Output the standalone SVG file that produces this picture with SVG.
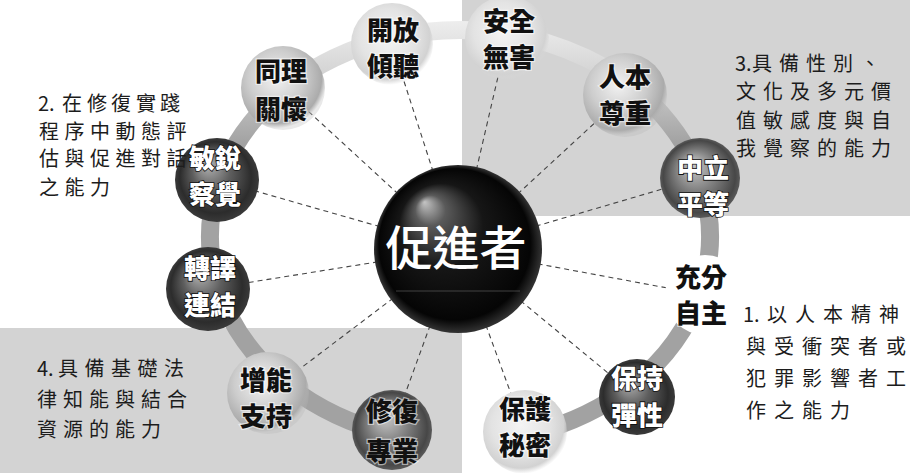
<svg xmlns="http://www.w3.org/2000/svg" width="910" height="473" viewBox="0 0 910 473">
<defs>
<style>
.lbl{font-family:"Noto Sans CJK TC","Noto Sans CJK SC",sans-serif;font-size:20px;fill:#1c1c1c}
.nt{font-family:"Noto Sans CJK TC","Noto Sans CJK SC",sans-serif;font-size:26px;font-weight:900;text-anchor:middle}
.dk{fill:#ffffff;stroke:#111;stroke-width:1.6px;paint-order:stroke}
.lt{fill:#111;stroke:#ffffff;stroke-width:2.5px;stroke-opacity:.55;paint-order:stroke}
.dash{stroke:#444;stroke-width:1.1;stroke-dasharray:5 4;fill:none}
.shade{fill:#d3d3d3}
</style>
<radialGradient id="gLight" cx=".45" cy=".42" r=".58">
<stop offset="0" stop-color="#f4f4f4"/><stop offset=".6" stop-color="#e3e3e3"/><stop offset=".88" stop-color="#d2d2d2"/><stop offset="1" stop-color="#d8d8d8" stop-opacity="0"/>
</radialGradient>
<radialGradient id="gMid" cx=".42" cy=".38" r=".6">
<stop offset="0" stop-color="#f2f2f2"/><stop offset=".55" stop-color="#cdcdcd"/><stop offset=".9" stop-color="#ababab"/><stop offset="1" stop-color="#b5b5b5" stop-opacity=".3"/>
</radialGradient>
<radialGradient id="gDark" cx=".5" cy=".5" r=".5" fx=".38" fy=".3">
<stop offset="0" stop-color="#b8b8b8"/><stop offset=".45" stop-color="#5e5e5e"/><stop offset=".85" stop-color="#2c2c2c"/><stop offset="1" stop-color="#3a3a3a"/>
</radialGradient>
<radialGradient id="gDark2" cx=".5" cy=".5" r=".5" fx=".4" fy=".32">
<stop offset="0" stop-color="#cfcfcf"/><stop offset=".5" stop-color="#808080"/><stop offset=".9" stop-color="#474747"/><stop offset="1" stop-color="#5a5a5a"/>
</radialGradient>
<radialGradient id="gCenter" cx=".5" cy=".5" r=".5" fx=".3" fy=".22">
<stop offset="0" stop-color="#c4c4c4"/><stop offset=".18" stop-color="#5a5a5a"/><stop offset=".5" stop-color="#161616"/><stop offset=".9" stop-color="#050505"/><stop offset="1" stop-color="#333"/>
</radialGradient>
<linearGradient id="gBand" gradientUnits="userSpaceOnUse" x1="0" y1="20" x2="0" y2="460">
<stop offset="0" stop-color="#eeeeee"/><stop offset=".12" stop-color="#d4d4d4"/><stop offset=".28" stop-color="#a2a2a2"/><stop offset="1" stop-color="#a2a2a2"/>
</linearGradient>
</defs>

<rect width="910" height="473" fill="#ffffff"/>
<rect class="shade" x="462" y="0" width="448" height="216"/>
<rect class="shade" x="0" y="328" width="462" height="145"/>

<path id="band" d="M416.6,438.9 A250,206 0 1 1 503.4,438.9" fill="none" stroke="url(#gBand)" stroke-width="18"/>

<g id="connectors">
<line class="dash" x1="458" y1="249" x2="392" y2="44"/>
<line class="dash" x1="458" y1="249" x2="507" y2="38"/>
<line class="dash" x1="458" y1="249" x2="283" y2="88"/>
<line class="dash" x1="458" y1="249" x2="625" y2="95"/>
<line class="dash" x1="458" y1="249" x2="217" y2="180"/>
<line class="dash" x1="458" y1="249" x2="700" y2="178"/>
<line class="dash" x1="458" y1="249" x2="208" y2="289"/>
<line class="dash" x1="458" y1="249" x2="705" y2="295"/>
<line class="dash" x1="458" y1="249" x2="268" y2="393"/>
<line class="dash" x1="458" y1="249" x2="392" y2="430"/>
<line class="dash" x1="458" y1="249" x2="525" y2="432"/>
<line class="dash" x1="458" y1="249" x2="637" y2="397"/>
</g>

<g id="n-openlisten"><circle cx="392" cy="44" r="41" fill="url(#gLight)"/><text class="nt lt"><tspan x="393" y="40">開放</tspan><tspan x="393" y="76">傾聽</tspan></text></g>
<g id="n-safe"><circle cx="507" cy="38" r="42" fill="url(#gLight)"/><text class="nt lt"><tspan x="509" y="31">安全</tspan><tspan x="509" y="67">無害</tspan></text></g>
<g id="n-empathy"><circle cx="283" cy="88" r="42" fill="url(#gMid)"/><text class="nt lt"><tspan x="281" y="81">同理</tspan><tspan x="281" y="119">關懷</tspan></text></g>
<g id="n-respect"><circle cx="625" cy="95" r="42" fill="url(#gMid)"/><text class="nt lt"><tspan x="625" y="87">人本</tspan><tspan x="625" y="123">尊重</tspan></text></g>
<g id="n-aware"><circle cx="217" cy="180" r="42" fill="url(#gDark)"/><text class="nt dk"><tspan x="215" y="168">敏銳</tspan><tspan x="215" y="204">察覺</tspan></text></g>
<g id="n-neutral"><circle cx="700" cy="178" r="40" fill="url(#gDark2)"/><text class="nt dk"><tspan x="703" y="178">中立</tspan><tspan x="703" y="214">平等</tspan></text></g>
<g id="n-translate"><circle cx="208" cy="289" r="42" fill="url(#gDark)"/><text class="nt dk"><tspan x="210" y="278">轉譯</tspan><tspan x="210" y="315">連結</tspan></text></g>
<g id="n-autonomy"><circle cx="705" cy="295" r="40" fill="#ffffff"/><text class="nt lt"><tspan x="701" y="287">充分</tspan><tspan x="701" y="323">自主</tspan></text></g>
<g id="n-empower"><circle cx="268" cy="393" r="41" fill="url(#gMid)"/><text class="nt lt"><tspan x="266" y="390">增能</tspan><tspan x="266" y="426">支持</tspan></text></g>
<g id="n-restore"><circle cx="392" cy="430" r="40" fill="url(#gDark2)"/><text class="nt lt"><tspan x="392" y="421">修復</tspan><tspan x="392" y="461">專業</tspan></text></g>
<g id="n-secret"><circle cx="525" cy="432" r="42" fill="url(#gLight)"/><text class="nt lt"><tspan x="525" y="419">保護</tspan><tspan x="525" y="455">秘密</tspan></text></g>
<g id="n-flex"><circle cx="637" cy="397" r="38" fill="url(#gDark)"/><text class="nt dk"><tspan x="637" y="388">保持</tspan><tspan x="637" y="425">彈性</tspan></text></g>

<g id="n-facilitator">
<circle cx="458" cy="249" r="84" fill="url(#gCenter)"/>
<line x1="396" y1="291" x2="520" y2="291" stroke="#5a5a5a" stroke-width="1" opacity=".7"/>
<text x="456" y="265" text-anchor="middle" font-family="Noto Sans CJK TC, Noto Sans CJK SC, sans-serif" font-size="47" font-weight="500" fill="#ffffff">促進者</text>
</g>

<g id="label-2">
<text class="lbl" x="38 49 62 87 111 136 160" y="111">2.在修復實踐</text>
<text class="lbl" x="39 64.5 90 115.5 141 166.5" y="139">程序中動態評</text>
<text class="lbl" x="39 64.5 90 115.5 141 166.5" y="166">估與促進對話</text>
<text class="lbl" x="39 64.5 90" y="195">之能力</text>
</g>
<g id="label-3">
<text class="lbl" x="735 746 752 779 806 833 860" y="71">3.具備性別、</text>
<text class="lbl" x="736 763 790 817 844 871" y="99">文化及多元價</text>
<text class="lbl" x="736 763 790 817 844 871" y="128">值敏感度與自</text>
<text class="lbl" x="736 763 790 817 844 871" y="156">我覺察的能力</text>
</g>
<g id="label-1">
<text class="lbl" x="743 754 767 795 823 851 879" y="322">1.以人本精神</text>
<text class="lbl" x="746 774 802 830 858 886" y="354">與受衝突者或</text>
<text class="lbl" x="746 774 802 830 858 886" y="386">犯罪影響者工</text>
<text class="lbl" x="746 774 802 830" y="418">作之能力</text>
</g>
<g id="label-4">
<text class="lbl" x="37 48 58 84.5 111 137.5 164" y="376">4.具備基礎法</text>
<text class="lbl" x="37 63 89 115 141 167" y="407">律知能與結合</text>
<text class="lbl" x="37 63 89 115 141" y="437">資源的能力</text>
</g>
</svg>
